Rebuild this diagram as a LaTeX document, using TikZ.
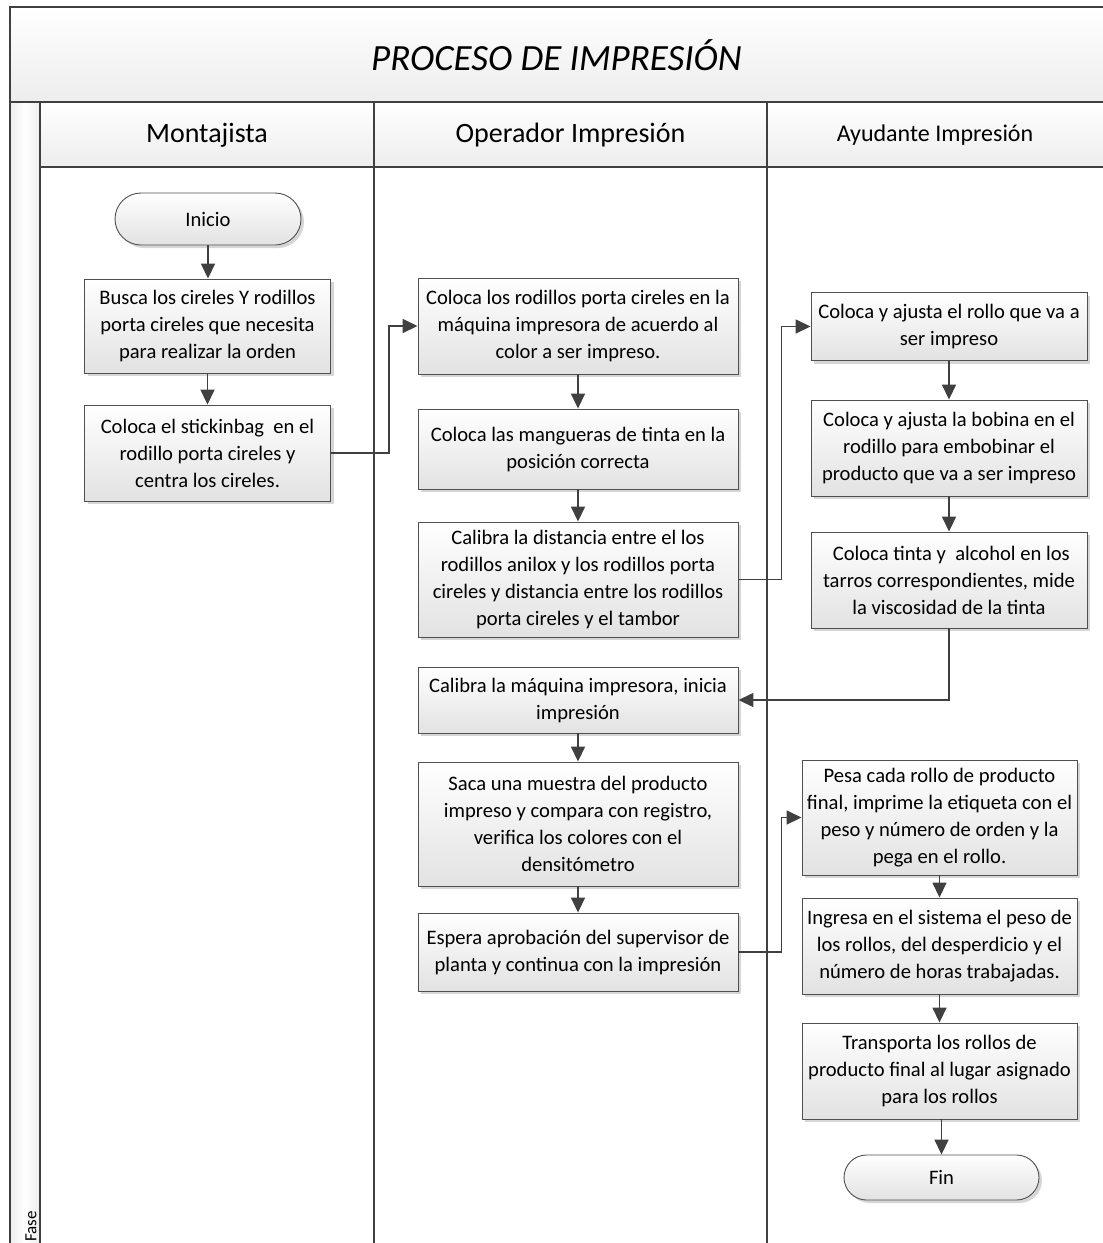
\documentclass[tikz,border=0pt]{standalone}
\usepackage{fontspec}
\setmainfont{Carlito}
\usetikzlibrary{arrows.meta,shapes.misc,shadows}

\definecolor{frameline}{HTML}{404040}
\definecolor{boxline}{HTML}{505050}
\definecolor{boxbot}{HTML}{E2E2E2}
\definecolor{bandgray}{HTML}{EDEDED}
\definecolor{shadowgray}{HTML}{D6D6D6}

\newcommand{\boxfont}{\fontsize{20.6}{27}\selectfont}

\tikzset{
  lane/.style={draw=frameline, line width=1.2pt},
  stepbox/.style={draw=boxline, line width=0.9pt, top color=white, bottom color=boxbot,
    align=center, font=\boxfont, inner sep=0pt,
    general shadow={fill=shadowgray, shadow xshift=3pt, shadow yshift=-3pt}},
  termbox/.style={stepbox, rounded rectangle},
  sz/.style 2 args={minimum width=#1pt, minimum height=#2pt},
  arr/.style={draw=frameline, line width=1.6pt, -{Triangle[length=15pt,width=14pt]}},
}

\begin{document}
\begin{tikzpicture}[x=1pt,y=-1pt]
\useasboundingbox (0,0) rectangle (1103,1243);

% title band, lane headers and phase column
\shade[top color=white, bottom color=bandgray] (10,7) rectangle (1103,102);
\shade[top color=white, bottom color=bandgray] (40,102) rectangle (1103,167);
\shade[left color=bandgray, right color=bandgray, middle color=white] (10,102) rectangle (40,1243);

\draw[lane] (1103,7) -- (10,7) -- (10,1243);
\draw[lane] (10,102) -- (1103,102);
\draw[lane] (40,167) -- (1103,167);
\draw[lane] (40,102) -- (40,1243);
\draw[lane] (374,102) -- (374,1243);
\draw[lane] (767,102) -- (767,1243);

\node (title) at (556.5,55) {\fontsize{37}{40}\selectfont\itshape PROCESO DE IMPRESIÓN};
\node (h1) at (207,135) {\fontsize{28}{30}\selectfont Montajista};
\node (h2) at (570.5,135) {\fontsize{28}{30}\selectfont Operador Impresión};
\node (h3) at (935,135) {\fontsize{24}{26}\selectfont Ayudante Impresión};
\node[rotate=90, anchor=west, inner sep=0pt] (fase) at (31,1242) {\fontsize{17}{18}\selectfont Fase};

% Montajista
\node[termbox, sz={186}{52}] (ini) at (208,219) {Inicio};
\node[stepbox, sz={246}{94}] (b1) at (207.5,326) {Busca los cireles Y rodillos\\porta cireles que necesita\\para realizar la orden};
\node[stepbox, sz={246}{96}] (b2) at (207.5,453) {Coloca el stickinbag \ en el\\rodillo porta cireles y\\centra los cireles.};

% Operador Impresion
\node[stepbox, sz={320}{96}] (b3) at (578,326) {Coloca los rodillos porta cireles en la\\máquina impresora de acuerdo al\\color a ser impreso.};
\node[stepbox, sz={320}{80}] (b4) at (578,449) {Coloca las mangueras de tinta en la\\posición correcta};
\node[stepbox, sz={320}{115}] (b5) at (578,579.5) {Calibra la distancia entre el los\\rodillos anilox y los rodillos porta\\cireles y distancia entre los rodillos\\porta cireles y el tambor};
\node[stepbox, sz={320}{66}] (b9) at (578,700) {Calibra la máquina impresora, inicia\\impresión};
\node[stepbox, sz={320}{124}] (b10) at (578,824) {Saca una muestra del producto\\impreso y compara con registro,\\verifica los colores con el\\densitómetro};
\node[stepbox, sz={320}{78}] (b11) at (578,952) {Espera aprobación del supervisor de\\planta y continua con la impresión};

% Ayudante Impresion
\node[stepbox, sz={276}{68}] (b6) at (949,326.5) {Coloca y ajusta el rollo que va a\\ser impreso};
\node[stepbox, sz={276}{96}] (b7) at (949,448) {Coloca y ajusta la bobina en el\\rodillo para embobinar el\\producto que va a ser impreso};
\node[stepbox, sz={276}{96}] (b8) at (949,580) {\ Coloca tinta y \ alcohol en los\\tarros correspondientes, mide\\la viscosidad de la tinta};
\node[stepbox, sz={275}{115}] (b12) at (939.5,817.5) {Pesa cada rollo de producto\\final, imprime la etiqueta con el\\peso y número de orden y la\\pega en el rollo.};
\node[stepbox, sz={275}{96}] (b13) at (939.5,946) {Ingresa en el sistema el peso de\\los rollos, del desperdicio y el\\número de horas trabajadas.};
\node[stepbox, sz={275}{96}] (b14) at (939.5,1071) {Transporta los rollos de\\producto final al lugar asignado\\para los rollos};
\node[termbox, sz={195}{45}] (fin) at (941.5,1177.5) {Fin};

% connectors
\draw[arr] (ini.south) -- (ini.south |- b1.north);
\draw[arr] (b1) -- (b2);
\draw[arr] (b2.east) -- ++(58,0) |- (b3.west);
\draw[arr] (b3) -- (b4);
\draw[arr] (b4) -- (b5);
\draw[arr] (b5.east) -- ++(43,0) |- (b6.west);
\draw[arr] (b6) -- (b7);
\draw[arr] (b7) -- (b8);
\draw[arr] (b8.south) |- (b9.east);
\draw[arr] (b9) -- (b10);
\draw[arr] (b10) -- (b11);
\draw[arr] (b11.east) -- ++(43,0) |- (b12.west);
\draw[arr] (b12) -- (b13);
\draw[arr] (b13) -- (b14);
\draw[arr] (b14.south) -- (b14.south -| fin.north) -- (fin.north);
\end{tikzpicture}
\end{document}
